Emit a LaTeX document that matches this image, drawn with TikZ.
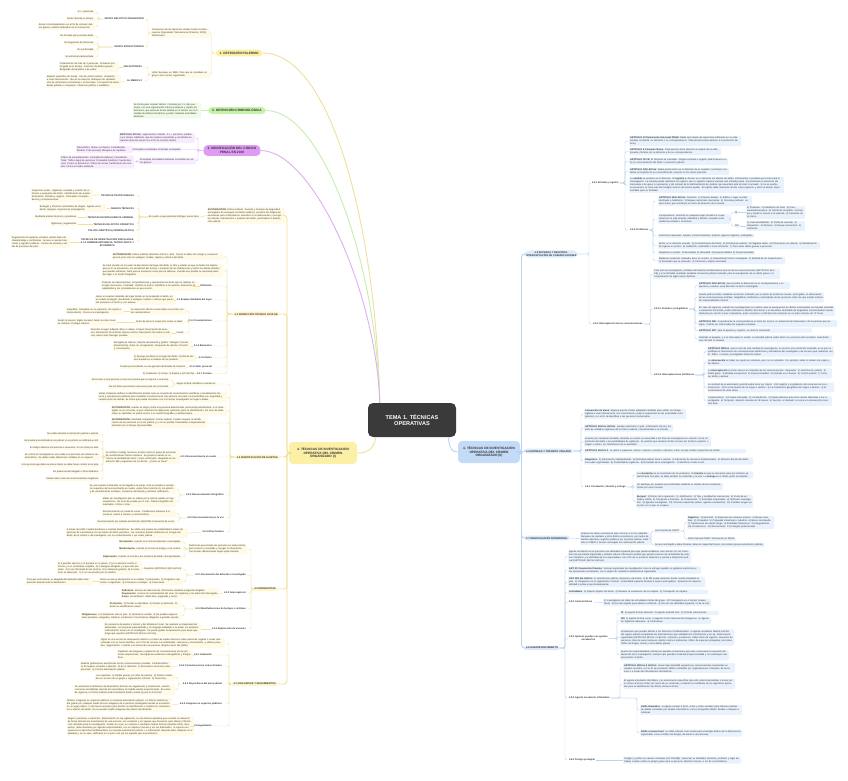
\documentclass[tikz,border=0pt]{standalone}
\usepackage{fontspec}
\setmainfont{Liberation Sans}
\usepackage{xcolor}
\usepackage{tikz}

\definecolor{cdark}{HTML}{3A3A3A}
\definecolor{tx}{HTML}{333333}
\definecolor{ypill}{HTML}{FCEFA6}
\definecolor{ysub}{HTML}{FFF5CC}
\definecolor{ynote}{HTML}{FFFAE6}
\definecolor{yline}{HTML}{F0E09A}
\definecolor{gpill}{HTML}{C4F2A6}
\definecolor{gnote}{HTML}{EFFBE6}
\definecolor{gline}{HTML}{C6EFAD}
\definecolor{ppill}{HTML}{DD9BF2}
\definecolor{pnote}{HTML}{F8EBFD}
\definecolor{pline}{HTML}{E0AEF3}
\definecolor{bpill}{HTML}{C4DBF7}
\definecolor{bsub}{HTML}{DCEAFB}
\definecolor{bnote}{HTML}{E9F2FC}
\definecolor{bline}{HTML}{BAD3F2}

\begin{document}
\begin{tikzpicture}[
  x=1pt,y=-1pt,
  every node/.style={text=tx, font=\fontsize{2.35}{3.0}\selectfont},
  central/.style={fill=cdark, text=white, rounded corners=5pt, minimum width=88, minimum height=34, align=center, font=\bfseries\fontsize{5.6}{6.8}\selectfont},
  pill/.style={fill=#1, rounded corners=4pt, align=center, inner xsep=4pt, inner ysep=2pt, font=\bfseries\fontsize{3.2}{3.9}\selectfont},
  rama/.style={fill=#1, rounded corners=3pt, align=center, inner xsep=2pt, inner ysep=1.2pt, font=\bfseries\fontsize{2.5}{3.0}\selectfont},
  lnote/.style={fill=#1, rounded corners=1pt, align=left, inner sep=0.9pt, anchor=east},
  rnote/.style={fill=#1, rounded corners=1pt, align=left, inner sep=0.9pt, anchor=west},
  llab/.style={anchor=east, align=center, inner sep=0.9pt, font=\bfseries\fontsize{2.4}{3.0}\selectfont},
  rlab/.style={anchor=west, align=center, inner sep=0.9pt, font=\bfseries\fontsize{2.4}{3.0}\selectfont},
  link/.style={draw=#1, line width=0.45pt, rounded corners=1.5pt},
  main/.style={draw=#1, line width=0.9pt}
]
\path[use as bounding box, fill=white] (0,0) rectangle (848,781);

% centro
\node[central] (tema) at (412,420) {TEMA 1. TÉCNICAS\\OPERATIVAS};

% 1. Palermo
\node[pill=ypill] (pal) at (239,53) {1. DEFINICIÓN PALERMO};
\node[lnote=ynote, text width=57] (conv) at (210,33) {Convención de las Naciones Unidas Contra la Delincuencia Organizada Transnacional (Palermo, 2000). Definiciones};
\node[lnote=ynote, text width=57] (ue) at (210,74.5) {Unión Europea, en 1998. Para que se considere un grupo como crimen organizado:};
\node[llab] (gdo) at (145,19) {GRUPO DELICTIVO ORGANIZADO};
\node[llab] (gest) at (145,47) {GRUPO ESTRUCTURADO};
\node[lnote=ynote] (gdo1) at (95,12) {3 o + personas.};
\node[lnote=ynote] (gdo2) at (95,19) {Existir durante un tiempo.};
\node[lnote=ynote, text width=55] (gdo3) at (95,26.5) {Actuar concertadamente con el fin de cometer delitos graves o delitos tipificados en la Convención.};
\node[lnote=ynote] (ge1) at (95,36) {No formado para cometer delito.};
\node[lnote=ynote] (ge2) at (95,43) {No asignación de funciones.};
\node[lnote=ynote] (ge3) at (95,50) {No continuidad.};
\node[lnote=ynote] (ge4) at (95,57) {No estructura desarrollada.};
\node[llab] (oblig) at (143,67) {OBLIGATORIAS};
\node[llab] (almenos) at (143,81) {AL MENOS 2};
\node[lnote=ynote, text width=58] (oblig1) at (119,67) {Colaboración de más de 2 personas. Actuación prolongada en el tiempo. Comisión de delitos graves. Búsqueda de beneficio o de poder.};
\node[lnote=ynote, text width=73] (almenos1) at (121,81.5) {Reparto específico de tareas. Uso de control interno. Actuación a nivel internacional. Uso de la violencia. Blanqueo de capitales. Uso de estructuras económicas o comerciales. Corrupción de autoridades públicas o empresas. Influencia política o mediática.};

% 2. criminologica
\node[pill=gpill] (crim) at (237,110.5) {2. DEFINICIÓN CRIMINOLÓGICA};
\node[lnote=gnote, text width=66] (crim1) at (201,110.5) {Se forma para cometer delitos. Formado por 3 o más personas, con una organización interna jerárquica y reparto de funciones, que actúa de forma estable en el tiempo con la finalidad de obtener beneficios y poder mediante actividades delictivas.};

% 3. codigo penal
\node[pill=ppill] (cp) at (232,150.5) {3. MODIFICACIÓN DEL CÓDIGO\\PENAL EN 2010};
\node[lnote=pnote, text width=74] (cp1) at (195,138) {\textbf{ARTÍCULO 570 bis}: organización criminal: 2 o + personas, estable o por tiempo indefinido, que de manera concertada y coordinada se repartan diversas tareas con el fin de cometer delitos.};
\node[lnote=pnote] (cp2) at (182,149.5) {Principales actividades criminales en España:};
\node[lnote=pnote, text width=55] (cp3) at (196,161) {Principales actividades delictivas cometidas por estos grupos:};
\node[lnote=pnote, text width=55] (cp21) at (133,149.5) {Narcotráfico; Robos con fuerza; Contrabando; Estafas; Trata (sexual); Blanqueo de capitales.};
\node[lnote=pnote, text width=72] (cp31) at (134,162) {Tráfico de estupefacientes; Contrabando (tabaco); Ciberdelitos; Trata; Tráfico ilegal de personas; Propiedad industrial; Fraude bancario; Contra el patrimonio; Tráfico de armas; Falsificación de moneda; Contra el medio ambiente.};

% 4. tecnicas (I)
\node[pill=ypill, minimum width=68, minimum height=22] (tec1) at (323,453) {4. TÉCNICAS DE INVESTIGACIÓN\\OPERATIVA DEL CRIMEN\\ORGANIZADO (I)};
\node[lnote=ynote, text width=76] (aut) at (285,215.5) {\textbf{AUTORIZACIÓN}: Policía Judicial. Fuerzas y Cuerpos de Seguridad encargados de averiguar los delitos públicos, practicar las diligencias necesarias para comprobarlos, descubrir a los delincuentes y recoger los efectos, instrumentos o pruebas del delito, poniéndolos a disposición judicial.};
\node[lnote=ynote] (tipos) at (200,217) {En cuanto a qué podemos distinguir varios tipos};
\node[llab] (ttrad) at (135,195) {TÉCNICAS TRADICIONALES};
\node[llab] (tnuev) at (135,208) {NUEVAS TÉCNICAS};
\node[llab] (tint) at (135,217) {TÉCNICAS DE INTELIGENCIA CRIMINAL};
\node[llab] (tapo) at (135,224) {TÉCNICAS DE APOYO OPERATIVO};
\node[llab] (tpol) at (135,230.5) {POLICÍA CIENTÍFICA (CRIMINALÍSTICA)};
\node[llab] (tciber) at (135,242) {TÉCNICAS DE INVESTIGACIÓN VINCULADAS\\A LA CIBERDELINCUENCIA, TECNOLÓGICA Y\\ECONÓMICA};
\node[lnote=ynote, text width=60] (ttrad1) at (93,195.5) {Inspección ocular. Vigilancia, custodia y revisión de informes o pesquisas del delito. Identificación de sujetos. Entrevistas. Entrada y registro. Interceptar correspondencia y comunicaciones.};
\node[lnote=ynote, text width=66] (tnuev1) at (107,208) {Entregas y tránsitos controlados de drogas. Agente encubierto. Equipos conjuntos de investigación.};
\node[lnote=ynote] (tint1) at (78,217) {Mediante análisis técnicos y operativos.};
\node[lnote=ynote] (tapo1) at (78,224) {Vigilancia y seguimiento.};
\node[lnote=ynote, text width=57] (tciber1) at (70,242) {Seguimiento de espacios virtuales, utilizar datos de ciberpatrullaje y confidentes. Acceso a cuentas bancarias y registros públicos. Control de entrada y salida de personas del país.};

% 4.1
\node[rama=ysub, anchor=east] (ito) at (280,314) {4.1 INSPECCIÓN TÉCNICO OCULAR};
\node[lnote=ynote, text width=109] (ito1) at (223,256.5) {\textbf{AUTORIZACIÓN}: Policía Judicial, Ministerio Fiscal o Juez. Tienen el deber de recoger y conservar para el juicio oral los vestigios, huellas, objetos y efectos del delito.};
\node[lnote=ynote, text width=119] (ito2) at (223,270.5) {Se hará constar en los autos la descripción del lugar del delito, el sitio y estado en que se hallen los objetos que en él se encuentren, los accidentes del terreno o situación de las habitaciones y todos los demás detalles que puedan utilizarse, tanto para la acusación como para la defensa. Cuando sea posible se levantará plano del lugar o se harán fotografías.};
\node[llab] (i411) at (213,286) {4.1.1 Definición};
\node[llab] (i412) at (213,300) {4.1.2 Examen detallado del lugar};
\node[llab] (i413) at (213,321) {4.1.3 Características};
\node[llab] (i414) at (213,346) {4.1.4 Elementos};
\node[llab] (i415) at (213,358) {4.1.5 Partes};
\node[llab] (i416) at (213,367) {4.1.6 Valor procesal};
\node[llab] (i417) at (213,373.5) {4.1.7 Formas};
\node[lnote=ynote, text width=97] (i411a) at (200,286) {Conjunto de observaciones, comprobaciones y operaciones técnicas que se realizan en el lugar del suceso. Finalidad: Verificar el hecho; Identificar a los autores; Determinar la culpabilidad y las circunstancias en que ocurrió.};
\node[lnote=ynote, text width=79] (i412a) at (176,300) {Hacer un examen detenido del lugar donde se ha producido el delito, en un estado protegido, atendiendo a vestigios, huellas o indicios que permitan esclarecer el hecho y sus autores.};
\node[lnote=ynote, text width=55] (i413a) at (187,311) {La inspección técnico ocular debe ser pronta, con las características:};
\node[lnote=ynote] (i413b) at (184,322) {Antes de hacer la inspección ocular se debe:};
\node[lnote=ynote] (i413c) at (185,333) {Pasos:};
\node[lnote=ynote, text width=56] (i413a1) at (124,311) {Irrepetible. Inmediata en su ejecución. No sujeta a interpretación. Previa a la investigación.};
\node[lnote=ynote, text width=58] (i413b1) at (117,322) {Acudir al suceso; Vigilar accesos; Aislar la zona; Auxiliar víctimas; Proteger indicios.};
\node[lnote=ynote, text width=80] (i413c1) at (172,333) {Describir el lugar; Adjuntar fotos o vídeos; Croquis; Descripción de accesos; Descripción de víctimas; Buscar rastros; Descripción de rastros e indicios; Hacer acta; Recoger pruebas.};
\node[lnote=ynote, text width=76] (i414a) at (191,346) {Recogida de indicios; Soporte documental y gráfico; Testigos; Pericias (planimetrías); Actas de consignación; Ocupación de efectos; Precinto y conservación.};
\node[lnote=ynote, text width=61] (i415a) at (196,358) {1) Recoger pruebas en el lugar del delito; 2) Informe técnico basado en el análisis de las pruebas.};
\node[lnote=ynote] (i416a) at (187,367) {Prueba preconstituida, es una garantía del Estado de Derecho.};
\node[lnote=ynote] (i417a) at (196,373.5) {1) Cuadrante. 2) Franja. 3) Espiral y 4) Punto fijo.};

% 4.2
\node[rama=ysub, anchor=east] (ids) at (280,457) {4.2 IDENTIFICACIÓN DE SUJETOS};
\node[lnote=ynote] (rae) at (217,384) {Según la RAE, identificar consiste en:};
\node[lnote=ynote] (rae1) at (170,380) {Reconocer si una persona o cosa es la misma que se supone o se busca.};
\node[lnote=ynote] (rae2) at (170,387) {Dar los datos personales necesarios para ser reconocido.};
\node[lnote=ynote, text width=127] (id1) at (227,397) {Varias instancias definen la identificación policial como el conjunto de conocimientos científicos, procedimientos técnicos y operaciones prácticas para constatar la existencia de una persona concreta, reconociéndola con seguridad y certeza entre las demás, de forma que pueda vincularse con los hechos investigados sin lugar a dudas.};
\node[lnote=ynote, text width=114] (id2) at (227,410.5) {\textbf{AUTORIZACIÓN}: cuando se dirige contra una persona determinada, reconocida judicialmente, si el investigado no es conocido, el juez ordenará las diligencias oportunas para su identificación. En caso de duda sobre su identidad, se podrá recurrir a la reseña fotográfica y dactiloscópica.};
\node[lnote=ynote, text width=94] (id3) at (207,423) {\textbf{AUTORIZACIÓN}: autoridad competente: Policía Judicial. Pueden requerir la identificación de las personas en la vía pública y, si no es posible, trasladarlas a dependencias policiales por el tiempo imprescindible.};
\node[llab] (i421) at (217,457) {4.2.1 Reconocimiento en rueda};
\node[lnote=ynote, text width=73] (i421a) at (180,457) {La víctima o testigo reconoce al autor entre un grupo de personas de características físicas similares. Se practica cuando no se conoce la identidad del autor o para confirmarla. Regulada en los artículos 368 y siguientes de la LECrim. ¿Cómo se hace?};
\node[lnote=ynote] (r1) at (100,434) {Se realiza durante la instrucción judicial o policial.};
\node[lnote=ynote] (r2) at (100,441) {Es prueba preconstituida si es judicial; si es policial, se ratificará en JO.};
\node[lnote=ynote] (r3) at (100,448) {El testigo observa a la persona a reconocer, sin ser visto por esta.};
\node[lnote=ynote, text width=74] (r4) at (100,456.5) {Se coloca al investigado en una rueda con personas de similares características. Se deben evitar diferencias notables en su aspecto.};
\node[lnote=ynote] (r5) at (100,465) {Si la persona que debe reconocer duda, se debe hacer constar en el acta.};
\node[lnote=ynote] (r6) at (100,471.5) {En presencia del abogado o fiscal defensor.};
\node[lnote=ynote] (r7) at (100,479) {Puede haber casos de reconocimientos negativos.};
\node[llab] (i422) at (225,495) {4.2.2 Reconocimiento fotográfico};
\node[lnote=ynote, text width=85] (i422a) at (176,489) {Se usa cuando el detenido no ha llegado a la rueda. Solo es prueba si cumple los requisitos del reconocimiento en rueda: varias fotos (mínimo 5), sin edición y de características similares. Presencia del letrado y posterior ratificación.};
\node[lnote=ynote, text width=72] (i422b) at (176,502) {Medio de investigación que se realiza por la policía cuando no hay sospechoso. No sirve de prueba por sí solo. Álbum fotográfico de reseñados, 5 fotos o más.};
\node[llab] (i423) at (225,518) {4.2.3 Reconocimiento por la voz};
\node[lnote=ynote, text width=72] (i423a) at (176,513.5) {Reconocimiento en rueda de voces. Condiciones similares a la rueda en cuanto a número y características.};
\node[lnote=ynote] (i423b) at (176,522) {Reconocimiento por señales electrónicas (SAVIOR). Evaluación de voces.};
\node[llab] (i424) at (225,532) {4.2.4 Otras fuentes};
\node[lnote=ynote, text width=120] (i424a) at (188,533) {A través del ADN, huellas dactilares o reseñas biométricas. Se utiliza una prueba de probabilidad a través de patrones de coincidencia con las bases de datos policiales. Las muestras pueden obtenerse en el lugar del delito, de la víctima o del investigado, con su consentimiento o por orden judicial.};

% 4.3
\node[rama=ysub, anchor=east] (ent) at (278,589) {4.3 ENTREVISTAS};
\node[lnote=ynote, text width=57] (ent0) at (247,549) {Testimonio que prestan las personas en sede policial, para conocer lo sucedido y recoger la información. Tres formas diferenciadas según quién declara:};
\node[lnote=ynote] (ent01) at (182,542) {\textbf{Declaración}: cuando se le toma al detenido o investigado.};
\node[lnote=ynote] (ent02) at (182,549) {\textbf{Manifestación}: cuando se le toma al testigo o a la víctima.};
\node[lnote=ynote] (ent03) at (182,557) {\textbf{Exploración}: cuando se le toma a los menores de edad o discapacitados.};
\node[llab] (i431) at (247,575) {4.3.1 Declaración del detenido o investigado};
\node[lnote=ynote] (der) at (183,569) {Derechos (ARTÍCULO 520 LECrim):};
\node[lnote=ynote, text width=83] (der1) at (142,568) {1) A guardar silencio y no declarar si no quiere. 2) A no declarar contra sí mismo y a no confesarse culpable. 3) A designar abogado y a que esté presente. 4) A ser informado de los hechos. 5) A intérprete gratuito. 6) A comunicar su detención. 7) A ser reconocido por un médico.};
\node[lnote=ynote, text width=82] (cas) at (183,581.5) {Casos en que la declaración no es válida: 1) Amenazas. 2) Preguntas capciosas o sugestivas. 3) Promesas o ventajas. 4) Coacciones.};
\node[lnote=ynote, text width=65] (cas1) at (93,581.5) {Para que surta efecto, el abogado del detenido debe estar presente durante toda la declaración.};
\node[llab] (i432) at (247,593) {4.3.2 Interrogatorio};
\node[lnote=ynote, text width=97] (i432a) at (220,593.5) {\textbf{Definición}: técnica de obtención de información mediante preguntas dirigidas. \textbf{Preparación}: conocer los antecedentes del caso, los objetivos y los datos del interrogado. \textbf{Fases}: presentación, relato libre, preguntas y cierre.};
\node[llab] (i433) at (247,609) {4.3.3 Manifestaciones de testigos o víctimas};
\node[lnote=ynote, text width=70] (i433a) at (181,605) {\textbf{Protección}: 1) Ocultar su identidad. 2) Ocultar su domicilio. 3) Evitar su identificación visual.};
\node[lnote=ynote, text width=98] (i433b) at (181,616) {\textbf{Obligaciones}: 1) Comparecer ante el juez. 2) Declarar la verdad. 3) No pueden negarse salvo parientes, abogados, médicos, confesores o funcionarios obligados a guardar secreto.};
\node[llab] (i434) at (247,629) {4.3.4 Exploración de menores};
\node[lnote=ynote, text width=95] (i434a) at (201,629) {En presencia de padres o tutores y del Ministerio Fiscal. Se realizará en dependencias adecuadas, con personal especializado y un lenguaje adaptado a su edad. Se evitará la confrontación visual con el investigado. Se puede grabar la declaración para evitar que tenga que repetirla (ARTÍCULO 449 bis LECrim).};

% 4.4
\node[rama=ysub, anchor=east] (vig) at (278,684) {4.4 VIGILANCIAS Y SEGUIMIENTOS};
\node[lnote=ynote, text width=123] (vig0) at (225,643) {Vigilar es una acción de observación directa o a través de medios técnicos sobre personas, lugares o cosas relacionadas con un hecho delictivo, con el fin de conocer sus actividades, relaciones y movimientos, y obtener pruebas. Seguimiento: ir detrás o en busca de una persona, dirigirse hacia ella (RAE).};
\node[llab] (i441) at (213,655) {4.4.1 Grabación};
\node[lnote=ynote, text width=74] (i441a) at (193,655) {Captación de imágenes y grabación de conversaciones de las personas sospechosas. Recogida de evidencias videográficas y fotográficas.};
\node[llab] (i442) at (223,666) {4.4.2 Comunicaciones orales directas};
\node[lnote=ynote, text width=90] (i442a) at (172,666.5) {Realizar grabaciones electrónicas de las conversaciones privadas. Características: 1) En lugares cerrados o abiertos. 2) En el domicilio. 3) Encuentros concretos entre personas. 4) Precisa autorización judicial.};
\node[llab] (i443) at (223,684) {4.4.3 Dispositivos del auto judicial};
\node[lnote=ynote, text width=78] (i443a) at (175,677.5) {Los requisitos: 1) Delitos graves (+3 años de prisión). 2) Delitos cometidos en el seno de un grupo u organización criminal. 3) Terrorismo.};
\node[lnote=ynote, text width=99] (i443b) at (175,690) {Se autorizará la utilización de dispositivos técnicos de seguimiento y localización, cuando concurran acreditadas razones de necesidad y la medida resulte proporcionada. En casos de urgencia, la Policía Judicial podrá instalarlos dando cuenta al juez en 24 horas.};
\node[llab] (i444) at (223,704) {4.4.4 Imágenes en espacios públicos};
\node[lnote=ynote, text width=104] (i444a) at (172,705) {Obtener imágenes en espacios públicos no necesita autorización judicial. La Policía Judicial podrá grabar por cualquier medio técnico imágenes de la persona investigada cuando se encuentre en un lugar público, si ello fuera necesario para facilitar su identificación o localizar los instrumentos o efectos del delito. No se pueden captar imágenes del interior del domicilio.};
\node[llab] (i445) at (213,726) {4.4.5 Seguimiento};
\node[lnote=ynote, text width=125] (i445a) at (194,726) {Seguir a personas o vehículos. Relacionado con las vigilancias, es una técnica operativa que consiste en observar de forma discreta los movimientos de una persona, sus contactos y los lugares que frecuenta, para obtener información relevante para la investigación. Puede ser a pie, en vehículo o mediante medios técnicos (balizas GPS). Requisitos: debe realizarse por agentes especializados, con un objetivo concreto y sin ser detectados. Si supone una injerencia en derechos fundamentales, se necesita autorización judicial. La información obtenida debe reflejarse en el atestado y, en su caso, ratificarse en el juicio oral por los agentes que la practicaron.};

% 4. tecnicas (II)
\node[pill=bpill, minimum width=62, minimum height=22] (tec2) at (489,452) {4. TÉCNICAS DE INVESTIGACIÓN\\OPERATIVA DEL CRIMEN\\ORGANIZADO (II)};

% 4.5
\node[rama=bsub, anchor=west, rounded corners=6pt] (reg) at (524,254) {4.5 ENTRADA Y REGISTRO.\\INTERCEPTACIÓN DE COMUNICACIONES};
\node[rlab] (i451) at (591,183) {4.5.1 Entrada y registro};
\node[rnote=bnote, text width=110] (i451a) at (629,141) {\textbf{ARTÍCULO 12 Declaración Universal DDHH}: Nadie será objeto de injerencias arbitrarias en su vida privada, su familia, su domicilio o su correspondencia. Toda persona tiene derecho a la protección de la ley.};
\node[rnote=bnote, text width=90] (i451b) at (629,151.5) {\textbf{ARTÍCULO 8 Convenio Roma}: Toda persona tiene derecho al respeto de su vida privada y familiar, de su domicilio y de su correspondencia.};
\node[rnote=bnote, text width=97] (i451c) at (629,161.5) {\textbf{ARTÍCULO 18 CE}: El domicilio es inviolable. Ninguna entrada o registro podrá hacerse en él sin consentimiento del titular o resolución judicial.};
\node[rnote=bnote, text width=98] (i451d) at (629,171.5) {\textbf{ARTÍCULO 545 LECrim}: Nadie podrá entrar en el domicilio de un español o extranjero residente en España sin su consentimiento, excepto en los casos previstos.};
\node[rnote=bnote, text width=153] (i451e) at (629,185) {La \textbf{entrada} es penetrar en el domicilio. El \textbf{registro} es buscar en el domicilio los efectos del delito, instrumentos o pruebas que sirvan para la investigación. La entrada puede realizarse sin registro, pero el registro requiere siempre una entrada previa. Se practicará en presencia del interesado o de quien lo represente, y del Letrado de la Administración de Justicia, que levantará acta de todo lo actuado. Si no es posible su presencia, se hará ante dos testigos vecinos del mismo pueblo. El registro debe realizarse de día, salvo urgencia, y durar el tiempo imprescindible para su finalidad.};
\node[rlab] (i452) at (629,230) {4.5.2 Problemas};
\node[rnote=bnote, text width=92] (i452a) at (658,201) {\textbf{ARTÍCULO 554 LECrim}: Domicilio: 1) Palacios Reales. 2) Edificio o lugar cerrado destinado a habitación. 3) Buques nacionales mercantes. 4) Personas jurídicas: espacio físico que constituye el centro de dirección de la misma.};
\node[rnote=bnote, text width=70] (jur) at (658,219) {Jurisprudencia: domicilio es cualquier lugar cerrado en el que transcurre la vida privada, individual y familiar, ocupado como residencia estable o transitoria.};
\node[rnote=bnote] (jursi) at (734,212.5) {SÍ};
\node[rnote=bnote] (jurno) at (734,226) {NO};
\node[rnote=bnote, text width=57] (jursi1) at (746,212.5) {1) Chabolas. 2) Habitación de hotel. 3) Caravana/autocaravana. 4) Tienda de campaña. 5) Garajes y trasteros anexos a la vivienda. 6) Camarote de un barco.};
\node[rnote=bnote, text width=57] (jurno1) at (746,226) {1) Casa deshabitada. 2) Portal de vivienda. 3) Despachos. 4) Almacén. 5) Garaje comunitario. 6) Vehículos.};
\node[rnote=bnote] (i452c) at (658,236) {Domicilios especiales: buques, Cortes Generales, templos, lugares religiosos, embajadas.};
\node[rnote=bnote, text width=160] (i452d) at (658,245.5) {Entrar en el domicilio cuando: 1) Consentimiento del titular. 2) Autorización judicial. 3) Flagrante delito. 4) Persecución en caliente. 5) Mandamiento de ingreso en prisión. 6) Catástrofe, calamidad o ruina inminente. 7) Para evitar daños graves a personas.};
\node[rnote=bnote] (i452e) at (658,253) {Requisitos a cumplir: 1) Necesidad. 2) Idoneidad. 3) Excepcionalidad. 4) Proporcionalidad.};
\node[rnote=bnote, text width=125] (i452f) at (658,260.5) {Mediante resolución motivada, tener en cuenta: 1) Gravedad del hecho investigado. 2) Entidad de los sospechosos. 3) Resultado que se pretende. 4) Personas y objetos buscados.};
\node[rlab] (i453) at (592,324) {4.5.3 Interceptación de las comunicaciones};
\node[rnote=bnote, text width=125] (i453a) at (653,274) {Todo acto de investigación, limitativo del derecho fundamental al secreto de las comunicaciones (ARTÍCULO 18.3 CE) y a la intimidad, realizado mediante resolución judicial motivada, para la averiguación de un delito grave o la comprobación de algún hecho delictivo.};
\node[rlab] (i4531) at (653,309) {4.5.3.1 Postales y telegráficas};
\node[rnote=bnote, text width=90] (p1) at (698,285.5) {\textbf{ARTÍCULO 579 LECrim}: para acordar la detención de la correspondencia y su apertura y examen, para descubrir el hecho investigado.};
\node[rnote=bnote, text width=124] (p2) at (698,297.5) {Juez/a podrá acordar, mediante resolución motivada, por un plazo de hasta tres meses, prorrogable, la observación de las comunicaciones postales, telegráficas, telefónicas y telemáticas de las personas sobre las que existan indicios de responsabilidad criminal.};
\node[rnote=bnote, text width=135] (p3) at (698,311) {En caso de urgencia, cuando las investigaciones se realicen para la averiguación de delitos relacionados con bandas armadas o elementos terroristas, podrá ordenarla el Ministro del Interior o el Secretario de Estado de Seguridad, comunicándolo inmediatamente por escrito al juez competente, quien revocará o confirmará tal resolución en un plazo máximo de 72 horas.};
\node[rnote=bnote, text width=137] (p4) at (698,323.5) {\textbf{ARTÍCULO 586}: la apertura de la correspondencia se hará por el juez, en presencia del interesado o de la persona que designe. Podrán ser intervenidos los paquetes postales.};
\node[rnote=bnote, text width=112] (p5) at (698,330.5) {\textbf{ARTÍCULO 587}: para la apertura y registro, se citará al interesado.};
\node[rnote=bnote, text width=132] (p6) at (698,339) {Detenido el paquete, y si el interesado no acude, la autoridad judicial podrá abrirlo en presencia del secretario, levantando acta de todo lo actuado.};
\node[rlab] (i4532) at (653,375) {4.5.3.2 Interceptaciones telefónicas};
\node[rnote=bnote, text width=125] (t1) at (707,351.5) {\textbf{ARTÍCULO 588 bis}: para el uso de esta medida de investigación, es precisa una resolución motivada, en la que se justifique la intervención de comunicaciones telefónicas y telemáticas del investigado o de terceros que colaboran con él. Plazo: 3 meses, prorrogables hasta 18 meses.};
\node[rnote=bnote, text width=123] (t2) at (707,362.5) {La \textbf{observación} es saber con quién se comunica, pero no el contenido. Por ejemplo, saber el número de origen y de destino.};
\node[rnote=bnote, text width=123] (t3) at (707,373.5) {La \textbf{interceptación} es tener acceso al contenido de las comunicaciones. Requisitos: 1) Autorización judicial. 2) Delito grave. 3) Medida excepcional. 4) Proporcionalidad. 5) Limitada en el tiempo. 6) Control judicial. 7) Conocer delito y autores.};
\node[rnote=bnote, text width=125] (t4) at (707,387.5) {La solicitud de la autorización policial podrá tener por objeto: 1) El registro y la grabación del contenido de la comunicación. 2) El conocimiento de su origen o destino. 3) La localización geográfica del origen o destino. 4) El conocimiento de otros datos.};
\node[rnote=bnote, text width=123] (t5) at (707,401) {Características: 1) Prueba anticipada. 2) Contradicción. 3) Puede utilizarse para otros delitos diferentes a los investigados. 4) Temporal: duración máxima de 18 meses. 5) Secreta: el afectado no conoce la intervención mientras dura.};

% 4.6
\node[rama=bsub, anchor=west] (etv) at (524,451) {4.6 ENTREGA Y TRÁNSITO VIGILADO};
\node[rnote=bnote, text width=100] (etv1) at (584,414) {\textbf{Convención de Viena}: dispone que las Partes adoptarán medidas para utilizar la entrega vigilada a nivel internacional, con conocimiento y bajo la supervisión de las autoridades competentes, con el fin de identificar a las personas involucradas.};
\node[rnote=bnote, text width=87] (etv2) at (584,428) {\textbf{ARTÍCULO 263 bis LECrim}: pueden autorizarlo el juez, el Ministerio Fiscal y los jefes de unidades orgánicas de la Policía Judicial, comunicándolo a la Fiscalía.};
\node[rnote=bnote, text width=125] (etv3) at (584,441.5) {Acuerdo por resolución fundada, teniendo en cuenta su necesidad a los fines de investigación en relación con la importancia del delito y las posibilidades de vigilancia. Se permite que remesas ilícitas circulen por territorio español, o salgan o entren, sin interferencia de la autoridad.};
\node[rnote=bnote, text width=160] (etv4) at (584,451) {\textbf{ARTÍCULO 263 bis 2}: se aplica a paquetes, sobres u objetos, cerrados o abiertos, sobre los que existan sospechas de ilicitud.};
\node[rnote=bnote, text width=167] (etv5) at (584,461) {\textbf{Requisitos}: 1) Autorización individualizada. 2) Autoridad judicial, fiscal o policial. 3) Afectación de derechos fundamentales. 4) Relación directa del delito con redes organizadas. 5) Posibilidad de vigilancia. 6) Resultado de la investigación. 7) Identificar a toda la red.};
\node[rlab] (i461) at (584,487) {4.6.1 Circulación, tránsito y entrega};
\node[rnote=bnote, text width=115] (i461a) at (636,475) {La \textbf{circulación} es el movimiento de los productos. El \textbf{tránsito} es que la mercancía pase por territorio español hacia otro país; se debe verificar su contenido y la ruta. La \textbf{entrega} es el último punto en España.};
\node[rnote=bnote, text width=85] (i461b) at (636,486.5) {Se sustituye por pruebas preconstituidas mediante el cambio de las sustancias ilícitas por otras inocuas.};
\node[rnote=bnote, text width=115] (i461c) at (636,501.5) {\textbf{Europol}: 1) Razón de la operación. 2) Justificación. 3) Tipo y cantidad de mercancías. 4) Punto de entrada y salida. 5) Transporte e itinerario. 6) Cooperación. 7) Autoridad responsable. 8) Vehículos investigados. 9) Agentes encargados. 10) Técnicas especiales (vídeo, agentes encubiertos). 11) Posibles riesgos en el país con el que se coopera.};

% 4.7
\node[rama=bsub, anchor=west] (pat) at (524,538) {4.7 INVESTIGACIÓN PATRIMONIAL};
\node[rnote=bnote, text width=69] (pat1) at (580,538.5) {Analizar los datos económicos para conocer si se ha realizado blanqueo de capitales y otros delitos económicos, por medio de fuentes abiertas y registros públicos por la policía judicial, mediante el CIMAT o acceso restringido con autorización judicial.};
\node[rnote=bnote] (osint) at (654,531) {Las Fuentes de OSINT};
\node[rnote=bnote, text width=85] (osint1) at (687,522.5) {\textbf{Registros}: 1) Mercantil. 2) Empresas de comercio exterior. 3) Bienes muebles. 4) Propiedad. 5) Propiedad intelectual e industrial. 6) Banco de España. 7) Operaciones de capital riesgo. 8) Entidades financieras. 9) Aseguradoras. 10) Fundaciones. 11) Asociaciones. 12) Colegios profesionales.};
\node[rnote=bnote] (osint2) at (687,539) {Otras Fuentes OSINT: información en RRSS.};
\node[rnote=bnote] (pat2) at (654,545) {Acceso restringido a datos fiscales, datos de Seguridad Social, otros datos (previa autorización judicial).};

% 4.8
\node[rama=bsub, anchor=west] (enc) at (524,648) {4.8 AGENTE ENCUBIERTO};
\node[rnote=bnote, text width=121] (enc1) at (568,556.5) {Agente encubierto es el que tiene una identidad supuesta para que pueda establecer una relación con los miembros de una banda organizada y obtener toda la información posible que permita conocer las actividades de esta, sus miembros y la identidad de los responsables, con el fin de su posterior detención y puesta a disposición judicial (ARTÍCULO 282 bis LECrim).};
\node[rnote=bnote, text width=131] (enc2) at (568,570) {\textbf{ART. 20 Convención Palermo}: técnicas especiales de investigación como la entrega vigilada, la vigilancia electrónica y las operaciones encubiertas, con el objeto de combatir la delincuencia organizada.};
\node[rnote=bnote, text width=135] (enc3) at (568,582) {\textbf{ART. 282 bis LECrim}: 1) Autorización judicial, temporal y voluntaria. 2) El MF puede autorizar, dando cuenta inmediata al juez. 3) Integración en la organización criminal. 4) Identidad supuesta durante 6 meses prorrogables. 5) Exento de responsabilidad si actúa proporcionadamente.};
\node[rnote=bnote, text width=138] (enc4) at (568,592) {\textbf{Actividades}: 1) Adquirir objetos del delito. 2) Retrasar la incautación de los objetos. 3) Transportar los objetos.};
\node[rlab] (i481) at (568,602) {4.8.1 Características};
\node[rnote=bnote, text width=106] (i481a) at (603,602.5) {1) Investigación de todas las actividades ilícitas del grupo. 2) Prolongación en el tiempo (meses, años). 3) Uso del engaño para obtener confianza. 4) Uso de una identidad supuesta, no de la real.};
\node[rlab] (i482) at (568,638.5) {4.8.2 Quiénes pueden ser agentes\\encubiertos};
\node[rnote=bnote, text width=97] (i482a) at (620,613) {\textbf{SÍ}: 1) Agente Policía Nacional. 2) Agente Guardia Civil. 3) Policías autonómicas.};
\node[rnote=bnote, text width=89] (i482b) at (620,620.5) {\textbf{NO}: 1) Agente Policía Local. 2) Agente Centro Nacional de Inteligencia. 3) Agente de Vigilancia Aduanera. 4) Particulares.};
\node[rnote=bnote, text width=112] (i482c) at (620,637.5) {Actuaciones que pueden afectar a los Derechos Fundamentales: el agente encubierto deberá solicitar del órgano judicial competente las autorizaciones que establezca la Constitución y la Ley. Delincuencia organizada (ARTÍCULO 282 bis 4 LECrim): extorsión, prostitución, tráfico ilícito de órganos, secuestro de personas, trata de seres humanos, delitos contra el patrimonio, tráfico de especies protegidas, terrorismo, tráfico de drogas, armas y otros delitos graves.};
\node[rnote=bnote, text width=107] (i482d) at (620,655) {Exento de responsabilidad criminal por aquellas actuaciones que sean consecuencia necesaria del desarrollo de la investigación, siempre que guarden la debida proporcionalidad y no constituyan una provocación al delito.};
\node[rlab] (i483) at (568,698) {4.8.3 Agente encubierto informático};
\node[rnote=bnote, text width=110] (i483a) at (623,668) {\textbf{ARTÍCULO 282 bis 6 LECrim}: actuar bajo identidad supuesta en comunicaciones mantenidas en canales cerrados, con el fin de esclarecer delitos cometidos por organizaciones criminales, de terrorismo o a través de instrumentos informáticos.};
\node[rnote=bnote, text width=110] (i483b) at (623,684) {El agente encubierto informático, con autorización específica para ello, podrá intercambiar o enviar por sí mismo archivos ilícitos por razón de su contenido y analizar los resultados de los algoritmos aplicados para la identificación de dichos archivos ilícitos.};
\node[rnote=bnote, text width=100] (i483c) at (640,710) {\textbf{Delito telemático}: el agente accede a foros, chats y redes cerradas para obtener pruebas de delitos cometidos por medios informáticos, como pornografía infantil, fraudes o ataques a sistemas.};
\node[rnote=bnote, text width=100] (i483d) at (640,733) {\textbf{Delito convencional}: se utiliza internet como medio para investigar delitos de la delincuencia organizada, como el tráfico de drogas, de armas o de personas.};
\node[rlab] (i484) at (568,760) {4.8.4 Testigo protegido};
\node[rnote=bnote, text width=116] (i484a) at (623,760) {Testigos y peritos en causas criminales (LO 19/1994): preservar su identidad, domicilio, profesión y lugar de trabajo cuando exista un peligro grave para su persona, libertad o bienes, o los de sus familiares.};

% ramas principales
\draw[main=yline] ([xshift=12]tema.north west) .. controls (376,230) and (332,53) .. (pal.east);
\draw[main=gline] ([xshift=12]tema.north west) .. controls (376,260) and (322,110.5) .. (crim.east);
\draw[main=pline] ([xshift=12]tema.north west) .. controls (376,290) and (312,150.5) .. (cp.east);
\draw[main=yline] ([xshift=8]tema.south west) .. controls (374,450) and (366,453) .. (tec1.east);
\draw[main=bline] ([xshift=-8]tema.south east) .. controls (450,450) and (452,452) .. (tec2.west);

% verticales
\coordinate (vpal) at (211.5,0);
\coordinate (vconv) at (148,0);
\coordinate (vgdo) at (98,0);
\coordinate (vcp) at (198,0);
\coordinate (vcp3) at (137,0);
\coordinate (vtk) at (287,0);
\coordinate (vtip) at (139,0);
\coordinate (vito) at (227,0);
\coordinate (v413) at (189,0);
\coordinate (vids) at (230,0);
\coordinate (vent) at (251,0);
\coordinate (vvig) at (229,0);
\coordinate (vtkb) at (521.5,0);
\coordinate (vreg) at (589,0);
\coordinate (v451) at (625,0);
\coordinate (v452) at (653,0);
\coordinate (v453) at (650.5,0);
\coordinate (vetv) at (581,0);
\coordinate (venc) at (565,0);

% conectores izquierda
\foreach \c in {conv,ue} \draw[link=yline] (pal.west) -| (vpal |- \c.east) -- (\c.east);
\foreach \c in {gdo,gest} \draw[link=yline] (conv.west) -| (vconv |- \c.east) -- (\c.east);
\foreach \c in {oblig,almenos} \draw[link=yline] (ue.west) -| (vconv |- \c.east) -- (\c.east);
\foreach \c in {gdo1,gdo2,gdo3} \draw[link=yline] (gdo.west) -| (vgdo |- \c.east) -- (\c.east);
\foreach \c in {ge1,ge2,ge3,ge4} \draw[link=yline] (gest.west) -| (vgdo |- \c.east) -- (\c.east);
\draw[link=yline] (oblig.west) -- (oblig1.east);
\draw[link=yline] (almenos.west) -- (almenos1.east);
\draw[link=gline] (crim.west) -- (crim1.east);
\foreach \c in {cp1,cp2,cp3} \draw[link=pline] (cp.west) -| (vcp |- \c.east) -- (\c.east);
\draw[link=pline] (cp2.west) -- (cp21.east);
\draw[link=pline] (cp3.west) -| (vcp3 |- cp31.east) -- (cp31.east);
\foreach \c in {aut,ito,ids,ent,vig} \draw[main=yline, rounded corners=3pt] (tec1.west) -| (vtk |- \c.east) -- (\c.east);
\draw[link=yline] (aut.west) -- (tipos.east);
\foreach \c in {ttrad,tnuev,tint,tapo,tpol,tciber} \draw[link=yline] (tipos.west) -| (vtip |- \c.east) -- (\c.east);
\foreach \p/\c in {ttrad/ttrad1,tnuev/tnuev1,tint/tint1,tapo/tapo1,tciber/tciber1} \draw[link=yline] (\p.west) -- (\c.east);
\foreach \c in {ito1,ito2,i411,i412,i413,i414,i415,i416,i417} \draw[link=yline] (ito.west) -| (vito |- \c.east) -- (\c.east);
\foreach \p/\c in {i411/i411a,i412/i412a,i414/i414a,i415/i415a,i416/i416a,i417/i417a,i413a/i413a1,i413b/i413b1,i413c/i413c1} \draw[link=yline] (\p.west) -- (\c.east);
\foreach \c in {i413a,i413b,i413c} \draw[link=yline] (i413.west) -| (v413 |- \c.east) -- (\c.east);
\foreach \c in {rae,id1,id2,id3,i421,i422,i423,i424} \draw[link=yline] (ids.west) -| (vids |- \c.east) -- (\c.east);
\foreach \c in {rae1,rae2} \draw[link=yline] (rae.west) -| ([xshift=3]\c.east) -- (\c.east);
\draw[link=yline] (i421.west) -- (i421a.east);
\foreach \c in {r1,r2,r3,r4,r5,r6,r7} \draw[link=yline] (i421a.west) -| ([xshift=3]\c.east) -- (\c.east);
\foreach \c in {i422a,i422b} \draw[link=yline] (i422.west) -| ([xshift=3]\c.east) -- (\c.east);
\foreach \c in {i423a,i423b} \draw[link=yline] (i423.west) -| ([xshift=3]\c.east) -- (\c.east);
\draw[link=yline] (i424.west) -- (i424a.east);
\foreach \c in {ent0,i431,i432,i433,i434} \draw[link=yline] (ent.west) -| (vent |- \c.east) -- (\c.east);
\foreach \c in {ent01,ent02,ent03} \draw[link=yline] (ent0.west) -| ([xshift=3]\c.east) -- (\c.east);
\foreach \c in {der,cas} \draw[link=yline] (i431.west) -| ([xshift=3]\c.east) -- (\c.east);
\draw[link=yline] (der.west) -- (der1.east);
\draw[link=yline] (cas.west) -- (cas1.east);
\draw[link=yline] (i432.west) -- (i432a.east);
\foreach \c in {i433a,i433b} \draw[link=yline] (i433.west) -| ([xshift=3]\c.east) -- (\c.east);
\draw[link=yline] (i434.west) -- (i434a.east);
\foreach \c in {vig0,i441,i442,i443,i444,i445} \draw[link=yline] (vig.west) -| (vvig |- \c.east) -- (\c.east);
\foreach \p/\c in {i441/i441a,i442/i442a,i444/i444a,i445/i445a} \draw[link=yline] (\p.west) -- (\c.east);
\foreach \c in {i443a,i443b} \draw[link=yline] (i443.west) -| ([xshift=3]\c.east) -- (\c.east);

% conectores derecha
\foreach \c in {reg,etv,pat,enc} \draw[main=bline, rounded corners=3pt] (tec2.east) -| (vtkb |- \c.west) -- (\c.west);
\foreach \c in {i451,i453} \draw[link=bline] (reg.east) -| (vreg |- \c.west) -- (\c.west);
\foreach \c in {i451a,i451b,i451c,i451d,i451e,i452} \draw[link=bline] (i451.east) -| (v451 |- \c.west) -- (\c.west);
\foreach \c in {i452a,jur,i452c,i452d,i452e,i452f} \draw[link=bline] (i452.east) -| (v452 |- \c.west) -- (\c.west);
\foreach \c in {jursi,jurno} \draw[link=bline] (jur.east) -| ([xshift=-3]\c.west) -- (\c.west);
\draw[link=bline] (jursi.east) -- (jursi1.west);
\draw[link=bline] (jurno.east) -- (jurno1.west);
\foreach \c in {i453a,i4531,i4532} \draw[link=bline] (i453.east) -| (v453 |- \c.west) -- (\c.west);
\foreach \c in {p1,p2,p3,p4,p5,p6} \draw[link=bline] (i4531.east) -| ([xshift=-3]\c.west) -- (\c.west);
\foreach \c in {t1,t2,t3,t4,t5} \draw[link=bline] (i4532.east) -| ([xshift=-3]\c.west) -- (\c.west);
\foreach \c in {etv1,etv2,etv3,etv4,etv5,i461} \draw[link=bline] (etv.east) -| (vetv |- \c.west) -- (\c.west);
\foreach \c in {i461a,i461b,i461c} \draw[link=bline] (i461.east) -| ([xshift=-3]\c.west) -- (\c.west);
\draw[link=bline] (pat.east) -- (pat1.west);
\foreach \c in {osint,pat2} \draw[link=bline] (pat1.east) -| ([xshift=-2.5]\c.west) -- (\c.west);
\foreach \c in {osint1,osint2} \draw[link=bline] (osint.east) -| ([xshift=-2.5]\c.west) -- (\c.west);
\foreach \c in {enc1,enc2,enc3,enc4,i481,i482,i483,i484} \draw[link=bline] (enc.east) -| (venc |- \c.west) -- (\c.west);
\draw[link=bline] (i481.east) -- (i481a.west);
\foreach \c in {i482a,i482b,i482c,i482d} \draw[link=bline] (i482.east) -| ([xshift=-3]\c.west) -- (\c.west);
\foreach \c in {i483a,i483b,i483c,i483d} \draw[link=bline] (i483.east) -| ([xshift=-3]\c.west) -- (\c.west);
\draw[link=bline] (i484.east) -- (i484a.west);
\end{tikzpicture}
\end{document}
